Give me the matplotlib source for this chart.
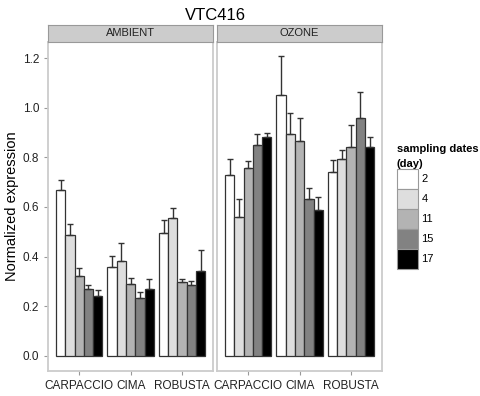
import matplotlib
matplotlib.use("Agg")
import matplotlib.pyplot as plt
import numpy as np
from matplotlib.patches import Patch

plt.rcParams["font.family"] = ["Liberation Sans", "DejaVu Sans"]

panels = ["AMBIENT", "OZONE"]
cultivars = ["CARPACCIO", "CIMA", "ROBUSTA"]
days = ["2", "4", "11", "15", "17"]
fills = ["#ffffff", "#dedede", "#b3b3b3", "#828282", "#000000"]

# mean expression per panel -> cultivar -> day
means = {
    "AMBIENT": [
        [0.667, 0.485, 0.322, 0.269, 0.242],
        [0.358, 0.384, 0.290, 0.232, 0.269],
        [0.497, 0.555, 0.298, 0.285, 0.340],
    ],
    "OZONE": [
        [0.727, 0.558, 0.755, 0.848, 0.880],
        [1.050, 0.892, 0.867, 0.631, 0.588],
        [0.739, 0.792, 0.843, 0.960, 0.840],
    ],
}
# top of error bar
err_top = {
    "AMBIENT": [
        [0.710, 0.530, 0.355, 0.285, 0.265],
        [0.404, 0.455, 0.312, 0.257, 0.309],
        [0.547, 0.597, 0.309, 0.302, 0.425],
    ],
    "OZONE": [
        [0.793, 0.632, 0.784, 0.894, 0.898],
        [1.207, 0.977, 0.957, 0.675, 0.641],
        [0.790, 0.829, 0.931, 1.063, 0.882],
    ],
}

W, H = 481, 396
fig = plt.figure(figsize=(W / 100, H / 100), dpi=100)

panel_left = [48.3, 217.3]
panel_w = 164.7
panel_top, panel_bottom = 41.7, 370.7
strip_top = 25.0

x = np.arange(1, len(cultivars) + 1)
bar_w = 0.9 / len(days)
axes = []
for p, left in zip(panels, panel_left):
    ax = fig.add_axes([left / W, 1 - panel_bottom / H, panel_w / W, (panel_bottom - panel_top) / H])
    m = np.array(means[p])
    e = np.array(err_top[p])
    for j in range(len(days)):
        pos = x - 0.45 + bar_w * (j + 0.5)
        ax.bar(pos, m[:, j], width=bar_w, color=fills[j], edgecolor="#333333", linewidth=0.9, zorder=2)
        ax.errorbar(pos, m[:, j], yerr=[np.zeros(len(x)), e[:, j] - m[:, j]], fmt="none",
                    ecolor="#333333", elinewidth=1.0, capsize=2.2, capthick=1.0, zorder=3)
    ax.set_xlim(0.4, 3.6)
    ax.set_ylim(-0.06, 1.266)
    ax.set_xticks(x)
    ax.set_xticklabels(cultivars)
    ax.set_yticks([0.0, 0.2, 0.4, 0.6, 0.8, 1.0, 1.2])
    for s in ax.spines.values():
        s.set_color("#cccccc")
        s.set_linewidth(1.3)
    ax.tick_params(axis="both", colors="#999999", labelcolor="#222222", labelsize=8.5, length=3, width=0.8)
    if p != panels[0]:
        ax.tick_params(axis="y", left=False, labelleft=False)

    sax = fig.add_axes([left / W, 1 - panel_top / H, panel_w / W, (panel_top - strip_top) / H])
    sax.set_facecolor("#cccccc")
    sax.set_xticks([])
    sax.set_yticks([])
    for s in sax.spines.values():
        s.set_color("#999999")
        s.set_linewidth(0.8)
    sax.text(0.5, 0.5, p, ha="center", va="center", fontsize=8, color="#222222", transform=sax.transAxes)
    axes.append(ax)

axes[0].set_ylabel("Normalized expression", fontsize=10.5, labelpad=3)
fig.text((48.3 + 382.7) / 2 / W, 1 - 15 / H, "VTC416", ha="center", va="center", fontsize=12)

handles = [Patch(facecolor=c, edgecolor="#999999", linewidth=0.8) for c in fills]
leg = fig.legend(handles, days, loc="upper left", bbox_to_anchor=(397 / W, 1 - 144 / H),
                 title="sampling dates\n(day)", title_fontproperties={"weight": "bold", "size": 8},
                 fontsize=8, frameon=False, handlelength=1.9, handleheight=2.4,
                 labelspacing=0.0, handletextpad=0.3, borderaxespad=0, borderpad=0,
                 alignment="left")
leg.get_title().set_linespacing(1.6)

fig.savefig("out.png", dpi=100)
